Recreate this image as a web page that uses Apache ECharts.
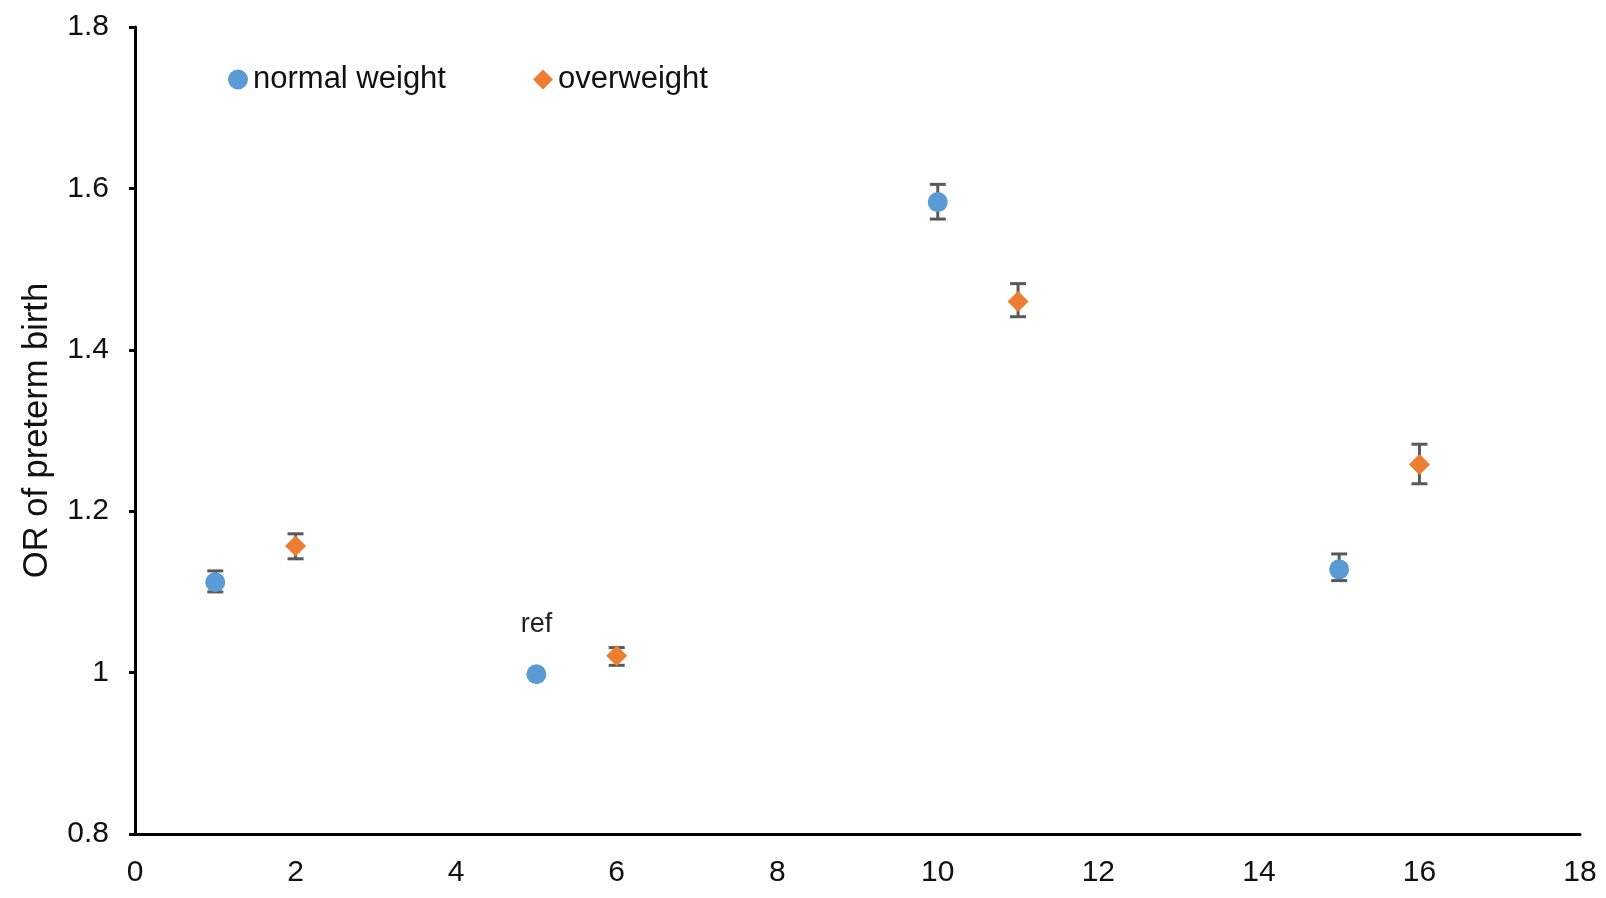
<!DOCTYPE html>
<html>
<head>
<meta charset="utf-8">
<script src="https://cdn.jsdelivr.net/npm/echarts@6/dist/echarts.min.js"></script>
<style>
html,body{margin:0;padding:0;background:#fff;}
#chart{width:1606px;height:898px;}
</style>
</head>
<body>
<div id="chart"></div>
<script>
const seriesNames = ['normal weight', 'overweight'];
const normalX = [1, 5, 10, 15];
const normalY = [1.112, 0.998, 1.583, 1.128];
const normalLow = [1.100, null, 1.562, 1.114];
const normalHigh = [1.126, null, 1.605, 1.147];
const overX = [2, 6, 11, 16];
const overY = [1.157, 1.021, 1.460, 1.258];
const overLow = [1.141, 1.009, 1.441, 1.234];
const overHigh = [1.172, 1.031, 1.482, 1.283];
const refIndex = 1;
const refLabel = 'ref';
const yTickLabels = {'0.8':'0.8','1':'1','1.2':'1.2','1.4':'1.4','1.6':'1.6','1.8':'1.8'};
const yTitle = 'OR of preterm birth';

const FONT = '"Liberation Sans", Arial, sans-serif';

function errData(xs, lows, highs) {
  const out = [];
  for (let i = 0; i < xs.length; i++) {
    if (lows[i] != null) out.push([xs[i], lows[i], highs[i]]);
  }
  return out;
}

function renderErr(params, api) {
  const x = api.value(0);
  const lo = api.coord([x, api.value(1)]);
  const hi = api.coord([x, api.value(2)]);
  const cap = 8;
  const style = {stroke: '#595959', lineWidth: 3, fill: null};
  return {
    type: 'group',
    children: [
      {type: 'line', shape: {x1: lo[0], y1: lo[1], x2: hi[0], y2: hi[1]}, style: style},
      {type: 'line', shape: {x1: lo[0] - cap, y1: lo[1], x2: lo[0] + cap, y2: lo[1]}, style: style},
      {type: 'line', shape: {x1: hi[0] - cap, y1: hi[1], x2: hi[0] + cap, y2: hi[1]}, style: style}
    ]
  };
}

const normalData = normalX.map((x, i) => {
  const d = {value: [x, normalY[i]]};
  if (i === refIndex) {
    d.label = {show: true, formatter: refLabel, position: 'top', distance: 26,
      fontSize: 27, fontFamily: FONT, color: '#222'};
  }
  return d;
});
const overData = overX.map((x, i) => [x, overY[i]]);

const chart = echarts.init(document.getElementById('chart'));
chart.setOption({
  animation: false,
  backgroundColor: '#fff',
  grid: {left: 135, right: 26, top: 27, bottom: 64, containLabel: false},
  legend: {
    data: [
      {name: seriesNames[0], icon: 'circle'},
      {name: seriesNames[1], icon: 'diamond'}
    ],
    left: 223, top: 59,
    itemWidth: 20, itemHeight: 20, itemGap: 87,
    textStyle: {fontSize: 31, fontFamily: FONT, color: '#111'}
  },
  xAxis: {
    type: 'value', min: 0, max: 18, interval: 2,
    axisLine: {show: true, lineStyle: {color: '#000', width: 3}},
    axisTick: {show: false},
    splitLine: {show: false},
    axisLabel: {fontSize: 30, fontFamily: FONT, color: '#111', margin: 24}
  },
  yAxis: {
    type: 'value', min: 0.8, max: 1.8, interval: 0.2,
    name: yTitle, nameLocation: 'middle', nameGap: 80,
    nameTextStyle: {fontSize: 34.5, fontFamily: FONT, color: '#111'},
    axisLine: {show: true, lineStyle: {color: '#000', width: 3}},
    axisTick: {show: true, inside: false, length: 6, lineStyle: {color: '#000', width: 3}},
    splitLine: {show: false},
    axisLabel: {fontSize: 30, fontFamily: FONT, color: '#111', margin: 26,
      formatter: v => yTickLabels[String(Math.round(v * 10) / 10)] || ''}
  },
  series: [
    {type: 'custom', name: 'errN', renderItem: renderErr, data: errData(normalX, normalLow, normalHigh), z: 1, silent: true},
    {type: 'custom', name: 'errO', renderItem: renderErr, data: errData(overX, overLow, overHigh), z: 1, silent: true},
    {type: 'scatter', name: seriesNames[0], symbol: 'circle', symbolSize: 20,
      itemStyle: {color: '#5B9BD5', opacity: 1}, data: normalData, z: 3},
    {type: 'scatter', name: seriesNames[1], symbol: 'diamond', symbolSize: 21,
      itemStyle: {color: '#ED7D31', opacity: 1}, data: overData, z: 3}
  ]
});
</script>
</body>
</html>
